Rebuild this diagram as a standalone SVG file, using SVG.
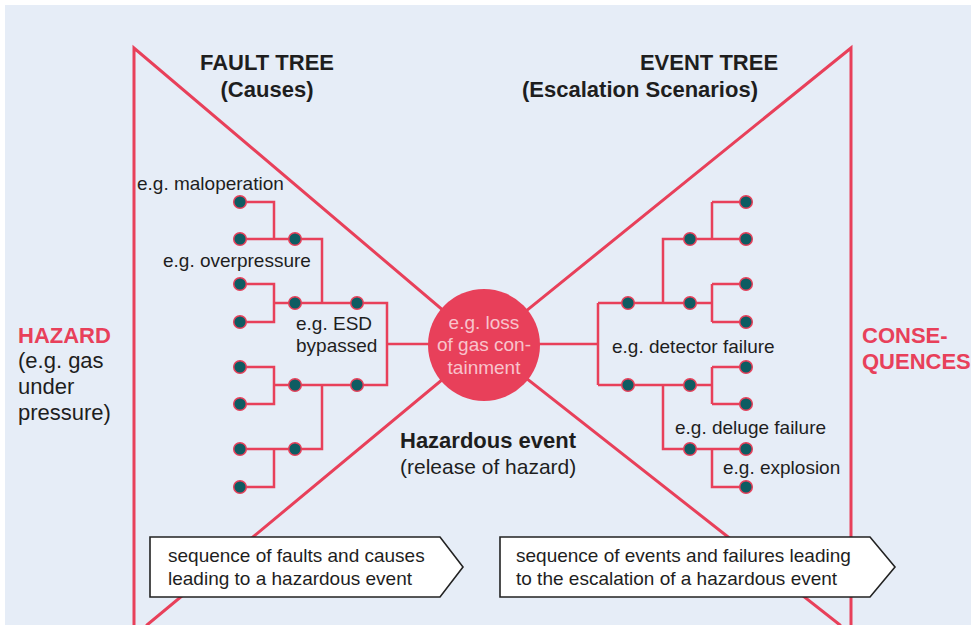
<svg xmlns="http://www.w3.org/2000/svg" width="971" height="625" viewBox="0 0 971 625">
<style>
.bg{fill:#e6edf7}
.bow{stroke:#e8405a;stroke-width:3;fill:none;stroke-linecap:round}
.tree{stroke:#e8405a;stroke-width:2.5;fill:none}
.dot{fill:#0e5c62;stroke:#e8405a;stroke-width:1.5}
text{font-family:"Liberation Sans",Arial,Helvetica,sans-serif;fill:#1e1e1e;font-size:19px}
.title{font-weight:bold;font-size:22px}
.red{fill:#e8405a;font-weight:bold;font-size:22px}
.side{font-size:22px}
.inner{fill:#f8c3cc;font-size:19px}
.box{fill:#ffffff;stroke:#222;stroke-width:1.6}
</style>
<rect x="0" y="0" width="971" height="625" fill="#ffffff"/>
<rect class="bg" x="5" y="5" width="966" height="620"/>

<g id="bowtie">
<path class="bow" d="M134,625 V48 L484,345 L147,625"/>
<path class="bow" d="M851,625 V48 L484,345 L840,625"/>
</g>

<g id="connectors">
<path class="tree" d="M240,202 H274 V239 M240,239 H322 V303 M240,284 H274 V322 H240 M274,303 H387 V385 H274 M240,367 H274 V404 H240 M322,385 V449 H240 M274,449 V487 H240 M387,344 H432"/>
<path class="tree" d="M536,344 H598 M598,303 V385 M598,303 H712 M663,303 V239 H712 M712,202 V239 M712,202 H746 M712,239 H746 M712,284 V322 M712,284 H746 M712,322 H746 M598,385 H712 M712,367 V404 M712,367 H746 M712,404 H746 M663,385 V449 H746 M712,449 V487 H746"/>
</g>

<g id="hazardous-event">
<circle cx="484" cy="345" r="56" fill="#e8405a"/>
<text class="inner" x="484" y="329" text-anchor="middle">e.g. loss</text>
<text class="inner" x="484" y="351" text-anchor="middle">of gas con-</text>
<text class="inner" x="484" y="374" text-anchor="middle">tainment</text>
<text x="400" y="448" style="font-weight:bold;font-size:22px">Hazardous event</text>
<text x="400" y="474" style="font-size:21px">(release of hazard)</text>
</g>

<g id="fault-tree">
<text class="title" x="267" y="70" text-anchor="middle">FAULT TREE</text>
<text class="title" x="267" y="97" text-anchor="middle">(Causes)</text>
<g id="fault-dots">
<circle class="dot" cx="240" cy="202" r="6.3"/>
<circle class="dot" cx="240" cy="239" r="6.3"/>
<circle class="dot" cx="240" cy="284" r="6.3"/>
<circle class="dot" cx="240" cy="322" r="6.3"/>
<circle class="dot" cx="240" cy="367" r="6.3"/>
<circle class="dot" cx="240" cy="404" r="6.3"/>
<circle class="dot" cx="240" cy="449" r="6.3"/>
<circle class="dot" cx="240" cy="487" r="6.3"/>
<circle class="dot" cx="295" cy="239" r="6.3"/>
<circle class="dot" cx="295" cy="303" r="6.3"/>
<circle class="dot" cx="295" cy="385" r="6.3"/>
<circle class="dot" cx="295" cy="449" r="6.3"/>
<circle class="dot" cx="357" cy="303" r="6.3"/>
<circle class="dot" cx="357" cy="385" r="6.3"/>
</g>
<text x="137" y="190">e.g. maloperation</text>
<text x="163" y="267">e.g. overpressure</text>
<text x="296" y="330">e.g. ESD</text>
<text x="296" y="352">bypassed</text>
</g>

<g id="event-tree">
<text class="title" x="709" y="70" text-anchor="middle">EVENT TREE</text>
<text class="title" x="640" y="97" text-anchor="middle">(Escalation Scenarios)</text>
<g id="event-dots">
<circle class="dot" cx="628" cy="303" r="6.3"/>
<circle class="dot" cx="628" cy="385" r="6.3"/>
<circle class="dot" cx="690" cy="239" r="6.3"/>
<circle class="dot" cx="690" cy="303" r="6.3"/>
<circle class="dot" cx="690" cy="385" r="6.3"/>
<circle class="dot" cx="690" cy="449" r="6.3"/>
<circle class="dot" cx="746" cy="202" r="6.3"/>
<circle class="dot" cx="746" cy="239" r="6.3"/>
<circle class="dot" cx="746" cy="284" r="6.3"/>
<circle class="dot" cx="746" cy="322" r="6.3"/>
<circle class="dot" cx="746" cy="367" r="6.3"/>
<circle class="dot" cx="746" cy="404" r="6.3"/>
<circle class="dot" cx="746" cy="449" r="6.3"/>
<circle class="dot" cx="746" cy="487" r="6.3"/>
</g>
<text x="612" y="353">e.g. detector failure</text>
<text x="675" y="434">e.g. deluge failure</text>
<text x="723" y="474">e.g. explosion</text>
</g>

<g id="hazard">
<text class="red" x="18" y="343">HAZARD</text>
<text class="side" x="18" y="368">(e.g. gas</text>
<text class="side" x="18" y="394">under</text>
<text class="side" x="18" y="420">pressure)</text>
</g>

<g id="consequences">
<text class="red" x="862" y="343">CONSE-</text>
<text class="red" x="862" y="369">QUENCES</text>
</g>

<g id="fault-sequence">
<path class="box" d="M150,537 H440 L463,567 L440,597 H150 Z"/>
<text x="168" y="562">sequence of faults and causes</text>
<text x="168" y="585">leading to a hazardous event</text>
</g>

<g id="event-sequence">
<path class="box" d="M500,537 H870 L895,567 L870,597 H500 Z"/>
<text x="516" y="562">sequence of events and failures leading</text>
<text x="516" y="585">to the escalation of a hazardous event</text>
</g>
</svg>
